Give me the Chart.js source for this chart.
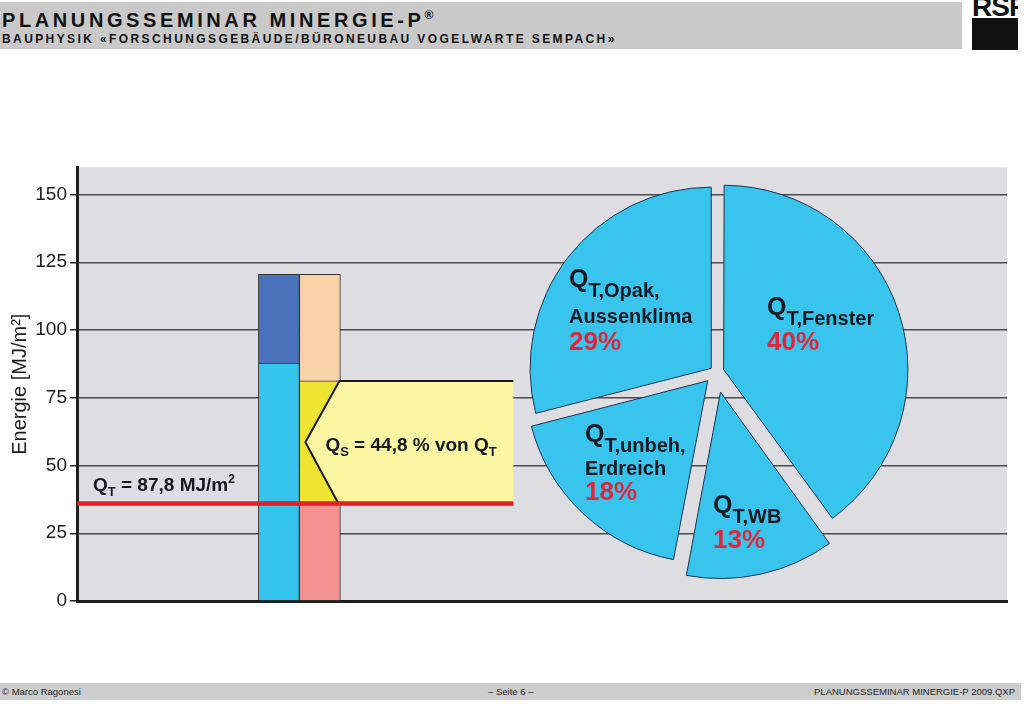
<!DOCTYPE html>
<html>
<head>
<meta charset="utf-8">
<script src="https://cdn.jsdelivr.net/npm/chart.js@4.4.1/dist/chart.umd.min.js"></script>
<style>
  body { margin: 0; width: 1024px; height: 707px; position: relative; overflow: hidden; background: #fff;
         font-family: "Liberation Sans", Arial, sans-serif; }
  #head { position: absolute; left: 0; top: 2px; width: 962px; height: 47px; background: #c9c9c9; }
  #title { position: absolute; left: 2px; top: 6px; font-size: 20px; font-weight: bold; letter-spacing: 3.6px; color: #111; white-space: nowrap; }
  #title sup { font-size: 12px; letter-spacing: 0; }
  #subtitle { position: absolute; left: 2px; top: 30px; font-size: 12px; font-weight: bold; letter-spacing: 2.4px; color: #111; white-space: nowrap; }
  #logo { position: absolute; left: 972px; top: 0; width: 46px; height: 50px; overflow: hidden; }
  #logo .blk { position: absolute; left: 0; top: 18px; width: 46px; height: 32px; background: #111; }
  #logo .txt { position: absolute; left: 0; top: -9px; font-size: 28px; font-weight: bold; color: #111; letter-spacing: -1px; }
  #foot { position: absolute; left: 0; top: 683px; width: 1021px; height: 17px; background: #cdcdcd; font-size: 9.5px; color: #222; }
  #foot span { position: absolute; top: 3px; white-space: nowrap; }
  canvas { position: absolute; }
  #bars { left: 0; top: 153px; }
  #pie { left: 476px; top: 132px; }
</style>
</head>
<body>
<div id="head">
  <div id="title">PLANUNGSSEMINAR MINERGIE-P<sup>®</sup></div>
  <div id="subtitle">BAUPHYSIK «FORSCHUNGSGEBÄUDE/BÜRONEUBAU VOGELWARTE SEMPACH»</div>
</div>
<div id="logo"><div class="blk"></div><div class="txt">RSP</div></div>
<div id="foot">
  <span style="left:2px">© Marco Ragonesi</span>
  <span style="left:488px">– Seite 6 –</span>
  <span style="right:6px">PLANUNGSSEMINAR MINERGIE-P 2009.QXP</span>
</div>
<canvas id="bars" width="1024" height="467"></canvas>
<canvas id="pie" width="480" height="480"></canvas>

<script>
// data (MJ/m2)
const slotLabels = ["", "", "", "", "", "Energiebilanz", "", "", "", "", "", "", "", "", "", "", "", "", "", "", "", "", ""];
const barSlot = 5;

const lossNames = ["Q_T", "Q_V"];
const lossValues = [87.8, 32.7];

const gainNames = ["Q_I", "Q_S", "Q_h"];
const gainValues = [36.0, 45.2, 39.3];

const pieNames = ["Q_T,Fenster", "Q_T,WB", "Q_T,unbeh,Erdreich", "Q_T,Opak,Aussenklima"];
const pieValues = [40, 13, 18, 29];

const yTickStep = 25;
const yMax = 160;

const FONT = '"Liberation Sans", Arial, sans-serif';
const lossColors = ["rgb(52,196,236)", "rgb(74,114,186)"];
const gainColors = ["rgb(244,146,146)", "rgb(240,228,50)", "rgb(250,210,168)"];

const inSlot = (v) => slotLabels.map((_, i) => (i === barSlot ? v : null));

const datasets = [];
lossValues.forEach((v, i) => {
  datasets.push({ label: lossNames[i], data: inSlot(v), stack: "verluste",
    backgroundColor: lossColors[i], borderColor: "#333", borderWidth: 1 });
});
gainValues.forEach((v, i) => {
  datasets.push({ label: gainNames[i], data: inSlot(v), stack: "gewinne",
    backgroundColor: gainColors[i], borderColor: "#333", borderWidth: 1 });
});

// text with sub / superscripts
function drawRich(ctx, x, y, parts) {
  parts.forEach((p) => {
    ctx.font = "bold " + p.size + "px " + FONT;
    ctx.fillStyle = p.color || "#141820";
    ctx.fillText(p.text, x, y + (p.dy || 0));
    x += ctx.measureText(p.text).width;
  });
}

const plotBackground = {
  id: "plotBackground",
  beforeDraw(chart) {
    const { ctx, chartArea: a } = chart;
    ctx.save();
    ctx.fillStyle = "rgb(221,221,226)";
    ctx.fillRect(a.left, a.top, a.right - a.left, a.bottom - a.top);
    ctx.restore();
  },
};

const callout = {
  id: "callout",
  afterDatasetsDraw(chart) {
    const { ctx, chartArea: a } = chart;
    const y = chart.scales.y;
    const bar = chart.getDatasetMeta(3).data[barSlot];
    const barLeft = bar.x - bar.width / 2;
    const barRight = bar.x + bar.width / 2;
    const yTop = y.getPixelForValue(gainValues[0] + gainValues[1]);
    const yBot = y.getPixelForValue(gainValues[0]);
    const yMid = (yTop + yBot) / 2;
    const tipX = barLeft + 6;
    const boxRight = barRight + 173;

    ctx.save();
    ctx.fillStyle = "rgb(253,246,162)";
    ctx.beginPath();
    ctx.moveTo(barRight - 1, yTop);
    ctx.lineTo(boxRight, yTop);
    ctx.lineTo(boxRight, yBot);
    ctx.lineTo(barRight - 2, yBot);
    ctx.lineTo(tipX, yMid);
    ctx.closePath();
    ctx.fill();

    ctx.strokeStyle = "#1a1a1a";
    ctx.lineWidth = 2;
    ctx.beginPath();
    ctx.moveTo(boxRight, yTop);
    ctx.lineTo(barRight - 1, yTop);
    ctx.lineTo(tipX, yMid);
    ctx.lineTo(barRight - 2, yBot);
    ctx.stroke();

    // Q_I level line
    ctx.strokeStyle = "rgb(226,30,38)";
    ctx.lineWidth = 4.5;
    ctx.beginPath();
    ctx.moveTo(a.left, yBot);
    ctx.lineTo(boxRight, yBot);
    ctx.stroke();

    drawRich(ctx, tipX + 20, yMid + 9, [
      { text: "Q", size: 19 },
      { text: "S", size: 13, dy: 5 },
      { text: " = 44,8 % von Q", size: 19 },
      { text: "T", size: 13, dy: 5 },
    ]);
    drawRich(ctx, a.left + 16, yBot - 12, [
      { text: "Q", size: 19 },
      { text: "T", size: 13, dy: 5 },
      { text: " = 87,8 MJ/m", size: 19 },
      { text: "2", size: 12, dy: -8 },
    ]);
    ctx.restore();
  },
};

new Chart(document.getElementById("bars"), {
  type: "bar",
  data: { labels: slotLabels, datasets: datasets },
  options: {
    responsive: false,
    animation: false,
    barThickness: 41,
    layout: { padding: { top: 7, right: 17, left: 0, bottom: 0 } },
    plugins: { legend: { display: false }, tooltip: { enabled: false } },
    scales: {
      x: {
        stacked: true,
        grid: { display: false },
        ticks: { display: false },
        border: { display: true, color: "#1e1e1e", width: 3 },
        afterFit(scale) { scale.height = 19; },
      },
      y: {
        stacked: true,
        min: 0,
        max: yMax,
        ticks: { stepSize: yTickStep, includeBounds: false, padding: 3, color: "#1a1a1a",
          font: { family: FONT, size: 19 } },
        grid: { color: "#4d4d50", lineWidth: 1.5, tickLength: 7, tickColor: "#222", tickWidth: 1.5 },
        border: { display: true, color: "#1e1e1e", width: 3 },
        title: { display: true, text: "Energie [MJ/m²]", color: "#1a1a1a", padding: { top: 8, bottom: 0 },
          font: { family: FONT, size: 20 } },
        afterFit(scale) { scale.width = 77; },
      },
    },
  },
  plugins: [plotBackground, callout],
});

// pie labels: Q + subscript, further lines, red percentage
const pieText = [
  { dx: 51, dy: -57, sub: "T,Fenster", lines: [], pct: "40%", pdy: -22 },
  { dx: -3, dy: 141, sub: "T,WB", lines: [], pct: "13%", pdy: 176 },
  { dx: -131, dy: 70, sub: "T,unbeh,", lines: [["Erdreich", 103]], pct: "18%", pdy: 128 },
  { dx: -147, dy: -85, sub: "T,Opak,", lines: [["Aussenklima", -49]], pct: "29%", pdy: -22 },
];

const pieLabels = {
  id: "pieLabels",
  afterDraw(chart) {
    const { ctx } = chart;
    const arc = chart.getDatasetMeta(0).data[0];
    const cx = arc.x, cy = arc.y;
    ctx.save();
    pieText.forEach((t) => {
      const x = cx + t.dx;
      drawRich(ctx, x, cy + t.dy, [
        { text: "Q", size: 25 },
        { text: t.sub, size: 20, dy: 10 },
      ]);
      t.lines.forEach(([txt, ly]) => drawRich(ctx, x, cy + ly, [{ text: txt, size: 20 }]));
      drawRich(ctx, x, cy + t.pdy, [{ text: t.pct, size: 26, color: "rgb(226,36,56)" }]);
    });
    ctx.restore();
  },
};

new Chart(document.getElementById("pie"), {
  type: "pie",
  data: {
    labels: pieNames,
    datasets: [{
      data: pieValues,
      backgroundColor: "rgb(56,196,236)",
      borderColor: "#1b3550",
      borderWidth: 1,
      offset: [32, 82, 48, 24],
    }],
  },
  options: {
    responsive: false,
    animation: false,
    radius: 181,
    plugins: { legend: { display: false }, tooltip: { enabled: false } },
  },
  plugins: [pieLabels],
});
</script>
</body>
</html>
